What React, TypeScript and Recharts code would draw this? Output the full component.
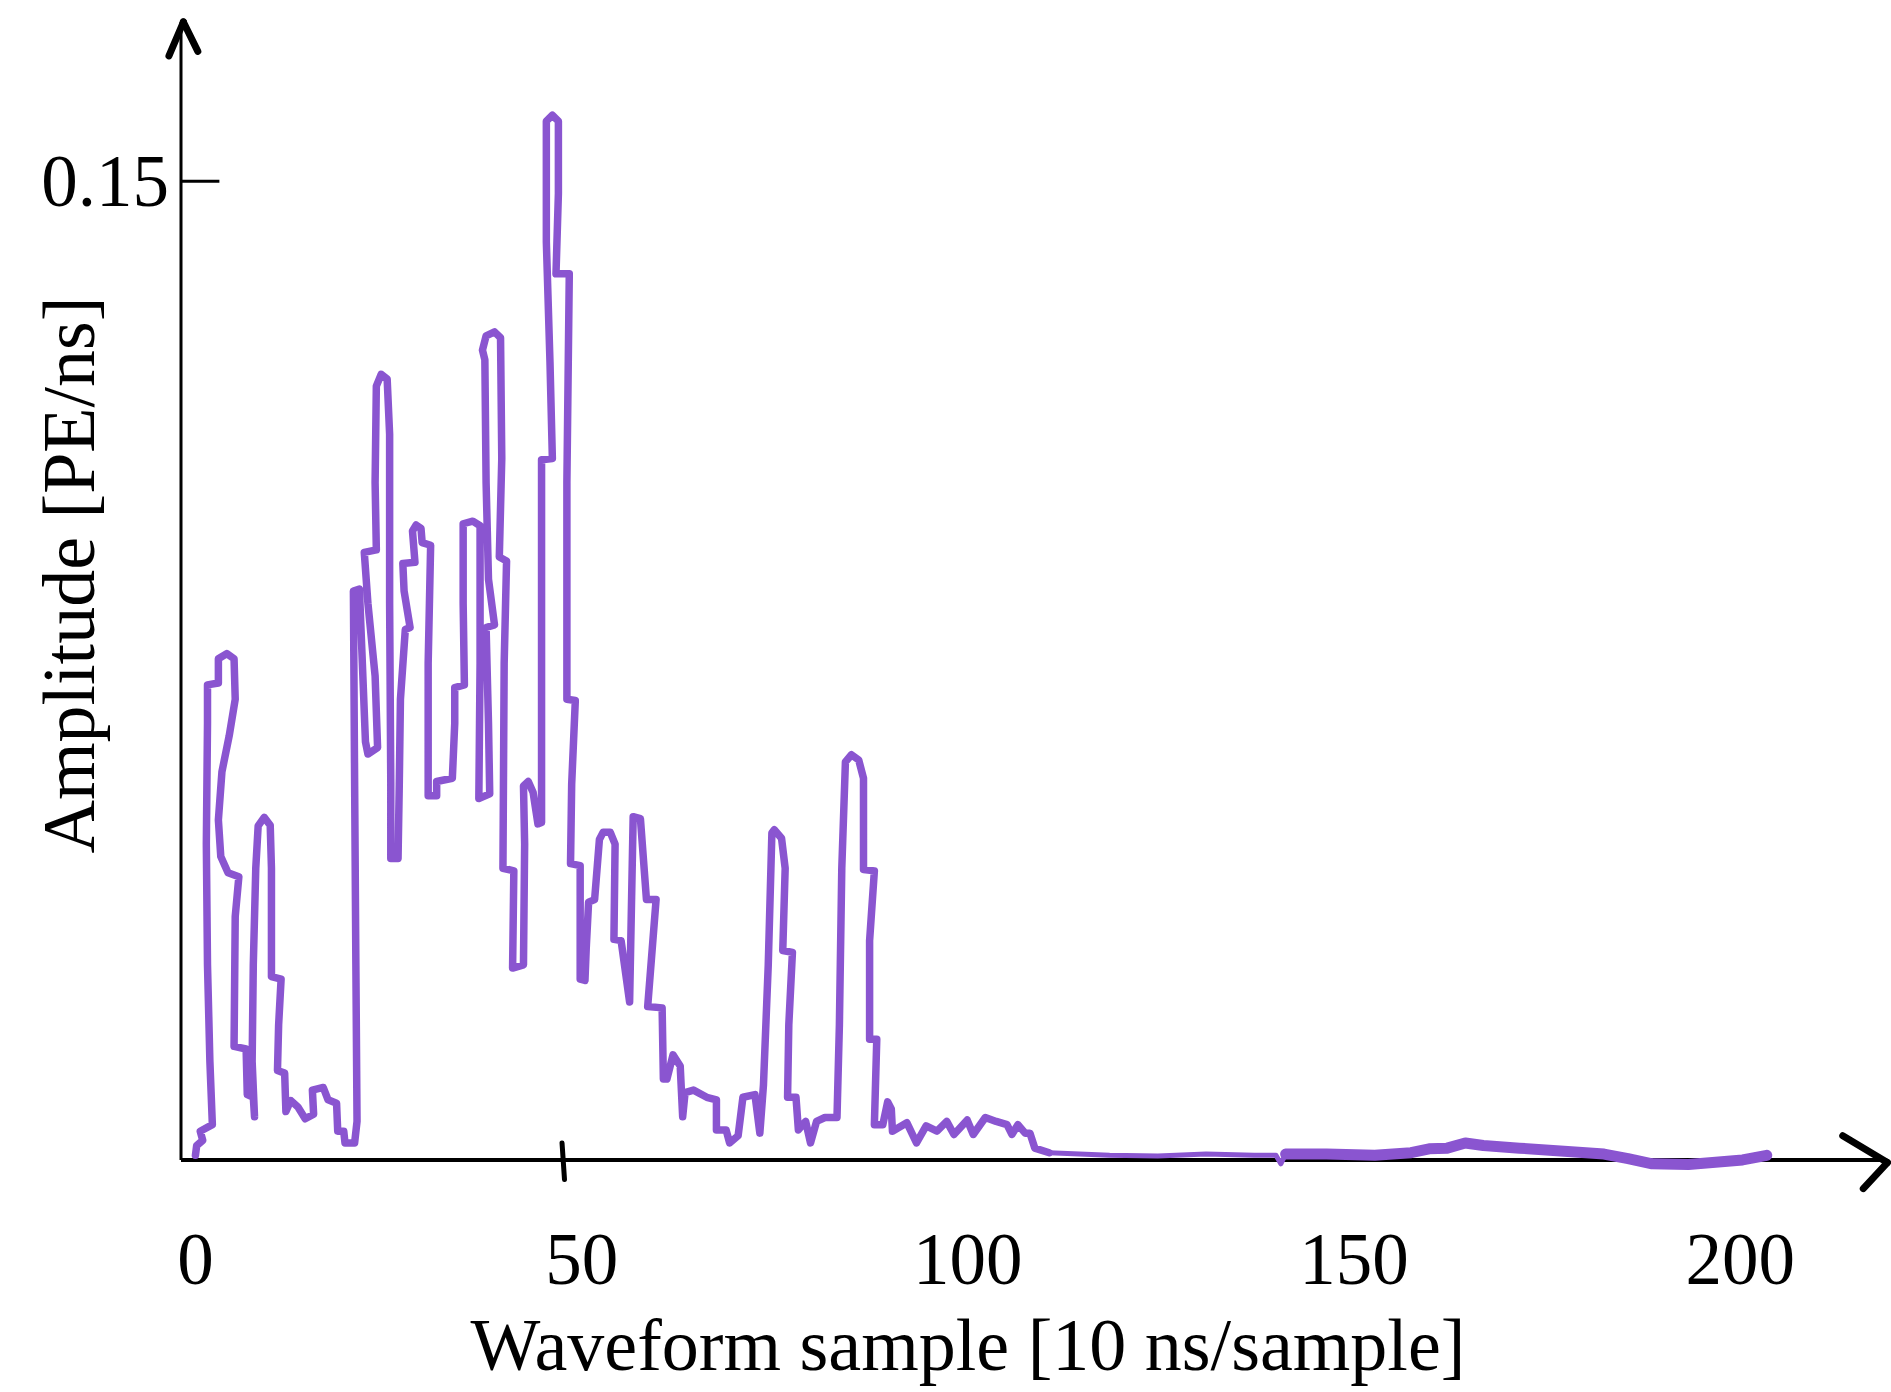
import React from "react";
import { LineChart, Line, XAxis, YAxis, ReferenceLine, Label } from "recharts";

// waveform outline (sample index, PE/ns)
const sampleX = [
    0.0, 0.16, 0.94, 0.62, 2.19, 1.87, 1.56, 1.41, 1.56, 1.56,
    2.97, 2.97, 4.06, 5.0, 5.15, 4.37, 3.43, 2.97, 3.28, 4.22,
    5.62, 5.15, 5.0, 6.56, 6.71, 7.49, 7.65, 7.34, 7.49, 7.81,
    8.12, 8.9, 9.68, 9.84, 9.84, 11.09, 10.77, 10.62, 11.55, 11.71,
    12.33, 13.27, 14.21, 15.3, 15.14, 16.55, 17.17, 18.27, 18.42, 19.2,
    19.36, 20.61,
    20.92, 20.77, 20.61, 20.45, 21.23, 21.55, 22.01, 22.33, 23.58, 23.26,
    22.33, 21.86, 23.42, 23.26, 23.42, 24.04, 24.82, 25.14, 25.14, 25.29,
    25.29, 26.23, 26.39, 26.54, 27.17, 27.79, 27.01, 26.85, 28.42, 28.1,
    28.57, 29.2, 29.35, 30.45, 30.13, 30.13, 31.23, 31.23, 33.26, 33.57,
    33.57, 34.82, 34.66, 34.66, 35.91, 36.85, 36.85, 36.69, 38.1, 37.94,
    37.63, 38.72, 37.94, 37.63, 37.47, 37.16, 37.63, 38.72, 39.5, 39.66,
    39.34, 40.28, 39.97, 39.81, 41.22, 41.06, 42.47, 42.62, 42.47, 43.09,
    43.72, 44.34, 44.81, 44.81, 44.81, 46.21, 45.9, 45.43, 45.43, 46.21,
    46.99, 46.99, 46.68, 48.4, 48.09, 48.09, 49.18, 48.71, 48.56, 49.81,
    49.81, 50.43, 50.59, 50.9, 51.68, 52.3, 52.77, 53.71, 54.33, 54.18,
    55.11, 56.21, 56.67, 57.61, 58.39, 59.64, 58.55, 60.42, 60.58, 61.04,
    61.83, 62.76, 63.08, 63.39, 64.48, 66.2, 67.45, 67.45, 68.7, 69.16,
    70.26, 70.88, 72.44, 73.07, 73.54, 74.16, 74.63, 74.94, 75.88, 76.35,
    76.04, 77.29, 76.82, 76.66, 77.75, 78.06, 79.0, 79.63, 80.41, 81.5,
    83.06, 83.37, 83.68, 84.15, 84.93, 85.87, 86.49, 86.49, 87.9, 87.28,
    87.28, 88.21, 87.9, 88.99, 89.62, 90.09, 90.24, 92.1, 93.35, 94.6,
    96.0, 97.27, 98.2, 99.92, 100.7, 102.26, 103.67, 105.07, 105.7, 106.48,
    107.42, 108.04, 108.67, 110.54,
];
const amplitude = [
    0.0007, 0.0022, 0.003, 0.0044, 0.0054, 0.0151, 0.0299, 0.0484, 0.0669, 0.0728,
    0.0731, 0.0768, 0.0776, 0.0768, 0.0706, 0.065, 0.0595, 0.0521, 0.0465, 0.044,
    0.0434, 0.0373, 0.0174, 0.017, 0.01, 0.0096, 0.0066, 0.0151, 0.0299, 0.0447,
    0.0512, 0.0525, 0.0513, 0.0447, 0.0281, 0.0277, 0.0207, 0.0137, 0.0133, 0.0074,
    0.0091, 0.0081, 0.0063, 0.007, 0.0107, 0.0111, 0.0092, 0.0087, 0.0044, 0.0044,
    0.0026, 0.0026,
    0.0059, 0.0299, 0.0576, 0.0872, 0.0875, 0.0779, 0.0641, 0.0622, 0.0632, 0.0742,
    0.0853, 0.0931, 0.0935, 0.1038, 0.1186, 0.1204, 0.1197, 0.1112, 0.0853, 0.0576,
    0.0462, 0.0462, 0.0576, 0.0706, 0.0813, 0.0816, 0.0872, 0.0914, 0.0916, 0.0964,
    0.0973, 0.0968, 0.0946, 0.0942, 0.0761, 0.0558, 0.0558, 0.058, 0.0585, 0.0669,
    0.0724, 0.0728, 0.0853, 0.0975, 0.0979, 0.0972, 0.0761, 0.0554, 0.0561, 0.0669,
    0.0816, 0.082, 0.089, 0.1038, 0.1226, 0.1241, 0.1263, 0.1269, 0.126, 0.1075,
    0.0924, 0.0918, 0.0761, 0.0447, 0.0443, 0.0294, 0.0299, 0.0484, 0.0573, 0.058,
    0.0563, 0.0515, 0.0517, 0.0853, 0.1073, 0.1075, 0.1223, 0.1407, 0.1592, 0.1601,
    0.1592, 0.1481, 0.1358, 0.1358, 0.1038, 0.0706, 0.0704, 0.0576, 0.0454, 0.0451,
    0.0277, 0.0275, 0.0323, 0.0395, 0.0399, 0.0491, 0.0502, 0.0502, 0.0484, 0.0338,
    0.0336, 0.0242, 0.0526, 0.0523, 0.0399, 0.0399, 0.0235, 0.0233, 0.0124, 0.0124,
    0.0161, 0.0144, 0.0066, 0.0103, 0.0107, 0.0096, 0.0092, 0.0046, 0.0046, 0.0026,
    0.0037, 0.0096, 0.01, 0.0041, 0.0115, 0.0299, 0.0501, 0.0506, 0.0493, 0.0447,
    0.0321, 0.0318, 0.0207, 0.0096, 0.0096, 0.0046, 0.0059, 0.0026, 0.0059, 0.0065,
    0.0065, 0.0207, 0.0447, 0.061, 0.0621, 0.0613, 0.0585, 0.0445, 0.0443, 0.0336,
    0.0185, 0.0185, 0.0054, 0.0054, 0.0089, 0.0078, 0.0044, 0.0057, 0.0026, 0.0052,
    0.0044, 0.0059, 0.0039, 0.0061, 0.0039, 0.0065, 0.0059, 0.0054, 0.0039, 0.0054,
    0.0041, 0.0041, 0.0018, 0.0011,
];

// flat part after the pulses (thin stroke)
const baselineX = [110.54, 118.35, 124.59, 130.84, 137.08, 139.89, 140.52, 141.14];
const baselineAmp = [0.0011, 0.0007, 0.0006, 0.0009, 0.0007, 0.0007, -0.0006, 0.0009];

// last stretch, drawn with a heavier stroke
const tailX = [141.14, 146.45, 152.69, 157.38, 159.72, 162.06, 164.4, 166.74, 171.43, 177.67, 182.36, 185.48, 188.6, 193.29, 196.41, 200.31, 203.43];
const tailAmp = [0.0009, 0.0009, 0.0007, 0.0011, 0.0017, 0.0018, 0.0026, 0.0022, 0.0018, 0.0013, 0.0009, 0.0002, -0.0006, -0.0007, -0.0004, 0.0, 0.0007];

const xTicks = [0, 50, 100, 150, 200];
const yTicks = [0.15];

const X_MIN = -1.87;
const X_MAX = 219;
const Y_MIN = -0.004;
const Y_MAX = 0.1744;

const toPoints = (xs: number[], ys: number[]) => xs.map((x, i) => ({ x, y: ys[i] }));

const FONT = "'Liberation Serif', 'DejaVu Serif', serif";
const PURPLE = "#8a55d0";

const XTick = (props: any) => {
    const { x, y, payload } = props;
    return (
        <text x={x} y={y + 98} textAnchor="middle" fontFamily={FONT} fontSize={73} fill="#000">
            {payload.value}
        </text>
    );
};

const YTick = (props: any) => {
    const { x, y, payload } = props;
    return (
        <text x={x - 12} y={y + 25} textAnchor="end" fontFamily={FONT} fontSize={73} fill="#000">
            {String(payload.value)}
        </text>
    );
};

const App: React.FC = () => {
    const wave = toPoints(sampleX, amplitude);
    const flat = toPoints(baselineX, baselineAmp);
    const tail = toPoints(tailX, tailAmp);

    return (
        <div style={{ position: "absolute", left: 0, top: 0, width: 1891, height: 1392, background: "#fff" }}>
            <LineChart width={1891} height={1392} margin={{ top: 22, right: 4, bottom: 0, left: 0 }}>
                <XAxis
                    dataKey="x"
                    type="number"
                    domain={[X_MIN, X_MAX]}
                    allowDataOverflow
                    ticks={xTicks}
                    interval={0}
                    tick={XTick}
                    tickLine={false}
                    axisLine={false}
                    tickSize={0}
                    tickMargin={0}
                    height={206}
                >
                    <Label
                        content={() => (
                            <text x={968} y={1370} textAnchor="middle" fontFamily={FONT} fontSize={74} fill="#000">
                                Waveform sample [10 ns/sample]
                            </text>
                        )}
                    />
                </XAxis>
                <YAxis
                    dataKey="y"
                    type="number"
                    domain={[Y_MIN, Y_MAX]}
                    allowDataOverflow
                    ticks={yTicks}
                    interval={0}
                    tick={YTick}
                    tickLine={false}
                    axisLine={false}
                    tickSize={0}
                    tickMargin={0}
                    width={181}
                >
                    <Label
                        content={() => (
                            <text transform="translate(94,575) rotate(-90)" x={0} y={0} textAnchor="middle" fontFamily={FONT} fontSize={74} fill="#000">
                                Amplitude [PE/ns]
                            </text>
                        )}
                    />
                </YAxis>

                {/* hand-drawn axes */}
                <ReferenceLine segment={[{ x: X_MIN, y: 0 }, { x: X_MIN, y: Y_MAX }]} stroke="#000" strokeWidth={3} ifOverflow="visible" />
                <ReferenceLine segment={[{ x: X_MIN, y: 0 }, { x: 219, y: 0 }]} stroke="#000" strokeWidth={4} ifOverflow="visible" />
                <ReferenceLine segment={[{ x: X_MIN, y: 0.15 }, { x: 3.1, y: 0.15 }]} stroke="#000" strokeWidth={3} ifOverflow="visible" />
                <ReferenceLine segment={[{ x: 47.46, y: 0.0026 }, { x: 47.78, y: -0.003 }]} stroke="#000" strokeWidth={5} strokeLinecap="round" ifOverflow="visible" />
                <ReferenceLine segment={[{ x: -3.43, y: 0.1692 }, { x: -1.56, y: 0.1744 }]} stroke="#000" strokeWidth={7} strokeLinecap="round" ifOverflow="visible" />
                <ReferenceLine segment={[{ x: -1.56, y: 0.1744 }, { x: 0.31, y: 0.1699 }]} stroke="#000" strokeWidth={7} strokeLinecap="round" ifOverflow="visible" />
                <ReferenceLine segment={[{ x: 213.27, y: 0.0037 }, { x: 219.05, y: -0.0004 }]} stroke="#000" strokeWidth={7} strokeLinecap="round" ifOverflow="visible" />
                <ReferenceLine segment={[{ x: 219.05, y: -0.0004 }, { x: 215.93, y: -0.0044 }]} stroke="#000" strokeWidth={7} strokeLinecap="round" ifOverflow="visible" />

                <Line data={wave} dataKey="y" type="linear" stroke={PURPLE} strokeWidth={7.5} strokeLinejoin="round" strokeLinecap="round" dot={false} activeDot={false} isAnimationActive={false} />
                <Line data={flat} dataKey="y" type="linear" stroke={PURPLE} strokeWidth={5} strokeLinejoin="round" strokeLinecap="round" dot={false} activeDot={false} isAnimationActive={false} />
                <Line data={tail} dataKey="y" type="linear" stroke={PURPLE} strokeWidth={11} strokeLinejoin="round" strokeLinecap="round" dot={false} activeDot={false} isAnimationActive={false} />
            </LineChart>
        </div>
    );
};

export default App;
